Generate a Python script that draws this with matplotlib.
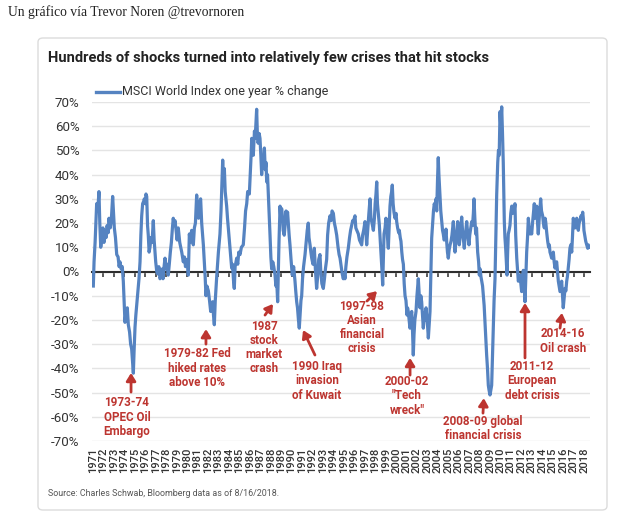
import matplotlib
matplotlib.use("Agg")
import matplotlib.pyplot as plt
from matplotlib.patches import FancyBboxPatch
from matplotlib.lines import Line2D

# ---------------- data ----------------
dates = [
 1971.03,1971.1,1971.2,1971.35,1971.45,1971.57,1971.65,1971.74,1971.85,1971.95,
 1972.05,1972.15,1972.25,1972.35,1972.45,1972.53,1972.65,1972.75,1972.88,1972.95,
 1973.04,1973.15,1973.27,1973.4,1973.5,1973.58,1973.7,1973.8,1973.9,1974.0,
 1974.06,1974.15,1974.22,1974.28,1974.38,1974.5,1974.6,1974.7,1974.8,1974.86,
 1974.93,1975.02,1975.1,1975.2,1975.27,1975.4,1975.5,1975.58,1975.66,1975.75,
 1975.85,1975.91,1976.0,1976.07,1976.14,1976.22,1976.29,1976.37,1976.45,1976.55,
 1976.65,1976.77,1976.85,1976.93,1977.0,1977.1,1977.2,1977.3,1977.41,1977.5,
 1977.6,1977.7,1977.8,1977.89,1978.0,1978.1,1978.2,1978.3,1978.4,1978.5,
 1978.6,1978.68,1978.77,1978.85,1978.95,1979.05,1979.16,1979.3,1979.4,1979.49,
 1979.64,1979.75,1979.85,1979.95,1980.05,1980.12,1980.22,1980.3,1980.44,1980.6,
 1980.7,1980.8,1980.92,1981.0,1981.1,1981.17,1981.3,1981.4,1981.56,1981.65,
 1981.73,1981.81,1981.9,1982.04,1982.15,1982.26,1982.35,1982.45,1982.53,1982.61,
 1982.7,1982.84,1983.0,1983.15,1983.25,1983.33,1983.41,1983.48,1983.57,1983.65,
 1983.79,1983.87,1983.95,1984.03,1984.11,1984.2,1984.27,1984.35,1984.45,1984.52,
 1984.6,1984.75,1984.85,1984.95,1985.07,1985.2,1985.38,1985.5,1985.6,1985.71,
 1985.8,1985.96,1986.05,1986.12,1986.19,1986.27,1986.34,1986.45,1986.52,1986.6,
 1986.66,1986.72,1986.8,1986.9,1986.98,1987.06,1987.14,1987.22,1987.3,1987.4,
 1987.48,1987.56,1987.62,1987.7,1987.78,1987.86,1987.94,1988.02,1988.1,1988.2,
 1988.3,1988.42,1988.5,1988.58,1988.67,1988.75,1988.8,1988.9,1988.97,1989.05,
 1989.12,1989.2,1989.3,1989.4,1989.47,1989.53,1989.62,1989.69,1989.77,1989.85,
 1989.95,1990.07,1990.2,1990.33,1990.4,1990.49,1990.57,1990.66,1990.74,1990.82,
 1990.9,1990.97,1991.05,1991.15,1991.29,1991.4,1991.5,1991.6,1991.67,1991.77,
 1991.85,1991.93,1992.05,1992.18,1992.28,1992.4,1992.5,1992.6,1992.72,1992.8,
 1992.9,1993.04,1993.15,1993.25,1993.36,1993.45,1993.55,1993.68,1993.78,1993.88,
 1994.0,1994.1,1994.2,1994.32,1994.45,1994.55,1994.64,1994.75,1994.85,1994.95,
 1995.05,1995.11,1995.2,1995.3,1995.43,1995.55,1995.65,1995.75,1995.85,1995.91,
 1996.0,1996.07,1996.15,1996.25,1996.39,1996.5,1996.6,1996.71,1996.8,1996.9,
 1997.03,1997.12,1997.19,1997.3,1997.4,1997.51,1997.6,1997.7,1997.83,1997.93,
 1998.0,1998.08,1998.15,1998.22,1998.3,1998.4,1998.5,1998.6,1998.66,1998.72,
 1998.78,1998.85,1998.95,1999.03,1999.1,1999.18,1999.26,1999.35,1999.42,1999.5,
 1999.58,1999.64,1999.72,1999.8,1999.9,2000.0,2000.06,2000.15,2000.25,2000.31,
 2000.4,2000.47,2000.55,2000.62,2000.7,2000.78,2000.86,2000.95,2001.05,2001.1,
 2001.17,2001.25,2001.33,2001.42,2001.5,2001.58,2001.65,2001.72,2001.8,2001.91,
 2002.0,2002.07,2002.13,2002.2,2002.29,2002.37,2002.45,2002.53,2002.61,2002.7,
 2002.78,2002.87,2002.95,2003.03,2003.09,2003.17,2003.25,2003.33,2003.41,2003.5,
 2003.58,2003.66,2003.75,2003.82,2003.89,2003.97,2004.04,2004.1,2004.2,2004.28,
 2004.37,2004.45,2004.52,2004.6,2004.7,2004.78,2004.85,2004.92,2005.0,2005.08,
 2005.17,2005.26,2005.35,2005.42,2005.48,2005.56,2005.64,2005.72,2005.8,2005.9,
 2005.98,2006.05,2006.15,2006.22,2006.28,2006.36,2006.45,2006.53,2006.6,2006.68,
 2006.76,2006.85,2006.92,2006.98,2007.05,2007.12,2007.24,2007.32,2007.4,2007.46,
 2007.54,2007.62,2007.7,2007.76,2007.81,2007.9,2007.97,2008.05,2008.12,2008.2,
 2008.28,2008.35,2008.43,2008.51,2008.6,2008.67,2008.75,2008.83,2008.9,2008.99,
 2009.07,2009.15,2009.22,2009.3,2009.38,2009.47,2009.55,2009.63,2009.73,2009.8,
 2009.87,2009.95,2010.02,2010.11,2010.18,2010.26,2010.31,2010.36,2010.42,2010.49,
 2010.56,2010.62,2010.68,2010.74,2010.82,2010.9,2010.98,2011.07,2011.15,2011.22,
 2011.3,2011.38,2011.45,2011.55,2011.62,2011.7,2011.78,2011.86,2011.94,2012.02,
 2012.1,2012.18,2012.26,2012.34,2012.42,2012.5,2012.58,2012.66,2012.74,2012.82,
 2012.9,2012.98,2013.06,2013.15,2013.23,2013.3,2013.38,2013.46,2013.54,2013.61,
 2013.7,2013.77,2013.84,2013.92,2014.03,2014.1,2014.19,2014.26,2014.32,2014.42,
 2014.51,2014.6,2014.67,2014.73,2014.8,2014.89,2014.97,2015.05,2015.13,2015.21,
 2015.29,2015.37,2015.45,2015.53,2015.6,2015.69,2015.77,2015.85,2015.93,2016.0,
 2016.08,2016.17,2016.25,2016.33,2016.4,2016.48,2016.56,2016.64,2016.72,2016.81,
 2016.88,2016.96,2017.04,2017.12,2017.2,2017.29,2017.36,2017.44,2017.52,2017.6,
 2017.7,2017.78,2017.86,2017.92,2017.98,2018.06,2018.15,2018.25,2018.34,2018.4,
 2018.46,
]
pct_change = [
 -6,4,12,28,25,33,20,10,14,18,
 12,17,14,19,16,22,18,21,31,25,
 18,14,7,6,2,4,1,2,-4,-15,
 -21,-17,-20,-15,-22,-25,-30,-32,-38,-42,
 -33,-23,-18,-13,-10,-3,4,15,23,28,
 29,30,28,32,31,19,15,8,10,14,
 12,21,13,8,4,0,-1,2,-3,-2,
 1,-3,2,5.5,1,3,-1.5,3,8,12,
 18,22,19,21,17,13,18,12,10,8,
 4,6,2,5,3,-1.5,15.5,12,17,11,
 18,20,31.6,26,22,28,30,20,11,4,
 -2,-10,-6,-8,-12,-16.5,-13,-12.5,-18,-22,
 -12,-2,8,15.5,25,35,46,38,42.5,33,
 27,22,18,14,9.6,5,1.4,3,-4,-7,
 2,5.5,3,8,7,10,11,18,25,28,
 33,32,40,47,55,52,48,58,55,62,
 67,58,53,57,55,48,40,47,45,51,
 42,45,37,40,32,25,15,6,1,4,
 2,-1.5,-6,-4,-12.5,2,12.5,27,22,26,
 23,17,15,20,25,22,24.5,20,15,11,
 5,-1.5,2,-4,-8,-12.5,-15,-20,-23.4,-18,
 -12,-10,-3,2,7,12,17,20,14,11,
 8,5.5,3,9.6,1,-7,-2,5,7,0,
 -5,-7,-3,1.4,5,15,20,23,21,25,
 24,20,18,15,10,7,5.5,2,-1,-3,
 -1,-3,2,6,9.6,14,17,19,21,20.6,
 22,23,18,17,15.5,13,12,11,15,17,
 20.6,16,11,18,24,30,22,20,17,22,
 28,32,37,28,24,19.3,12,5,0,-5.6,
 5,15.5,18,22,20.6,14,9.6,20,27,31,
 33,35.7,28,24.5,22,24,20.6,18,16,17,
 14,12.5,8,5,3,-5,-10,-12,-18,-15,
 -16.5,-20,-23.4,-18,-16.5,-25,-34.5,-26,-20,-16.5,
 -10,-6,-3,-8,-15,-10,-12.5,-18,-23.4,-17,
 -20,-15,-19,-23.4,-27.5,-22,-16.5,-2,13.8,20,
 25,28,26,30,25,38,47,40,31.6,25,
 20.6,17,15.5,13,14,17.5,12,8,5.5,9,
 11,12.5,15,18,20.6,14,8,12,15,20.6,
 16,11,15,19,22.5,17,13,9.6,14,17,
 20.6,16,13,11,15,17,20.6,19,24,30,
 22,15.5,18,12,8,4,-1.5,1,-2,-4,
 -6,-10,-14,-21,-28,-34.5,-40,-47,-49,-51,
 -49,-47,-36,-23.4,-12,-3,15,31.6,45,50,
 48,66,60,68,58,45,32,20.6,14,9.6,
 4,-1.5,8,15.5,17,19,24,27,24,27,
 25,28,15,5.5,1,-4,-3,-1.5,-5,-8.3,
 -4,0.5,-6,-12.5,-2,8,14,22,18,15.5,
 17,15.5,20,24,28,22,24,27,20,15.5,
 22,26,30,25,23,20,18,22,20.6,16,
 12.5,10,11,8,7,5.5,7,8,4,1.4,
 3,4,0,-4,-6,-8.3,-6,-4,-10,-15,
 -11,-7,-8,-4,-2,1.4,5,9.6,11,8,
 14,22,20,18,20,22,19,17,20,21,
 23,22,24.5,22,17,15,12.5,11,9.6,11,
 10,
]
year_ticks = list(range(1971, 2019))
y_ticks = list(range(-70, 71, 10))

series_label = "MSCI World Index one year % change"
title = "Hundreds of shocks turned into relatively few crises that hit stocks"
header = "Un gráfico vía Trevor Noren @trevornoren"
source = "Source: Charles Schwab, Bloomberg data as of 8/16/2018."

# annotations: text, text position (year, %), arrow tail, arrow head
annotations = [
    ("1973-74\nOPEC Oil\nEmbargo", (1974.25, -60.1), (1974.64, -49.8), (1974.64, -41.9)),
    ("1979-82 Fed\nhiked rates\nabove 10%", (1980.95, -39.9), (1981.81, -30.0), (1981.81, -23.8)),
    ("1987\nstock\nmarket\ncrash", (1987.36, -31.4), (1987.46, -18.0), (1988.22, -13.4)),
    ("1990 Iraq\ninvasion\nof Kuwait", (1992.44, -45.2), (1992.24, -34.5), (1991.10, -24.2)),
    ("1997-98\nAsian\nfinancial\ncrisis", (1996.74, -23.1), (1997.22, -12.2), (1998.18, -8.1)),
    ("2000-02\n\"Tech\nwreck\"", (2001.05, -51.4), (2001.34, -42.8), (2001.34, -35.7)),
    ("2008-09 global\nfinancial crisis", (2008.32, -64.9), (2008.32, -58.5), (2008.40, -52.3)),
    ("2011-12\nEuropean\ndebt crisis", (2013.01, -45.2), (2012.34, -35.7), (2012.34, -13.0)),
    ("2014-16\nOil crash", (2015.98, -28.7), (2015.69, -23.4), (2015.88, -17.1)),
]

# ---------------- styling ----------------
W, H = 626, 517
BLUE = "#5583c1"
RED = "#bd3530"
GRID = "#e4e4e4"
TXT = "#333333"
SANS = ["Roboto", "DejaVu Sans"]

fig = plt.figure(figsize=(W / 100, H / 100), dpi=100)
fig.patch.set_facecolor("white")

def fx(px):
    return px / W

def fy(py):
    return 1 - py / H

# card outline
card = FancyBboxPatch((fx(38), fy(510)), fx(607) - fx(38), fy(38) - fy(510),
                      boxstyle="round,pad=0,rounding_size=0.008",
                      transform=fig.transFigure, facecolor="none",
                      edgecolor="#dcdcdc", linewidth=1.0, zorder=-5)
fig.patches.append(card)

fig.text(fx(8), fy(12), header, family=["Liberation Serif", "DejaVu Serif"],
         fontsize=9.8, color="#222222", va="center", ha="left")
fig.text(fx(48), fy(58), title, family=SANS, fontweight="bold",
         fontsize=10.5, color="#222222", va="center", ha="left")
fig.lines.append(Line2D([fx(96), fx(120)], [fy(92), fy(92)],
                        transform=fig.transFigure, color=BLUE, lw=2.4))
fig.text(fx(122), fy(92), series_label, family=SANS, fontsize=9.0,
         color=TXT, va="center", ha="left")
fig.text(fx(48), fy(494), source, family=SANS, fontsize=6.4,
         color="#555555", va="center", ha="left")

ax = fig.add_axes([fx(92), fy(441), fx(590) - fx(92), fy(102) - fy(441)])
ax.set_facecolor("none")
ax.plot(dates, pct_change, color=BLUE, lw=2.3, zorder=3, solid_joinstyle="round")
ax.set_xlim(1970.904, 2018.56)
ax.set_ylim(-70, 70)

ax.set_yticks(y_ticks)
ax.set_yticklabels([f"{v}%" for v in y_ticks], family=SANS, fontsize=9.6, color=TXT)
ax.tick_params(axis="y", length=0, pad=9)
ax.yaxis.grid(True, color=GRID, lw=1.0, zorder=0)
ax.set_axisbelow(True)

for s in ("left", "right", "top"):
    ax.spines[s].set_visible(False)
ax.spines["bottom"].set_position(("data", 0))
ax.spines["bottom"].set_color("#2e2e2e")
ax.spines["bottom"].set_linewidth(1.5)
ax.spines["bottom"].set_zorder(2.5)
ax.set_xticks(year_ticks)
ax.tick_params(axis="x", direction="out", length=3.5, width=1.1, color="#2e2e2e",
               labelbottom=False)

sec = ax.secondary_xaxis("bottom")
sec.set_xticks(year_ticks)
sec.set_xticklabels([str(y) for y in year_ticks], rotation=90, family=SANS,
                    fontsize=8.0, color=TXT, fontweight="medium")
sec.tick_params(axis="x", length=0, pad=5)
sec.spines["bottom"].set_visible(False)

for txt, tpos, tail, head in annotations:
    ax.text(tpos[0], tpos[1], txt, ha="center", va="center", color=RED,
            family=SANS, fontweight="bold", fontsize=8.4, linespacing=1.12, zorder=4)
    ax.annotate("", xy=head, xytext=tail,
                arrowprops=dict(arrowstyle="-|>,head_length=0.45,head_width=0.28",
                                color=RED, lw=2.0, shrinkA=0, shrinkB=0),
                zorder=4)

fig.savefig("out.png", dpi=100, facecolor="white")
